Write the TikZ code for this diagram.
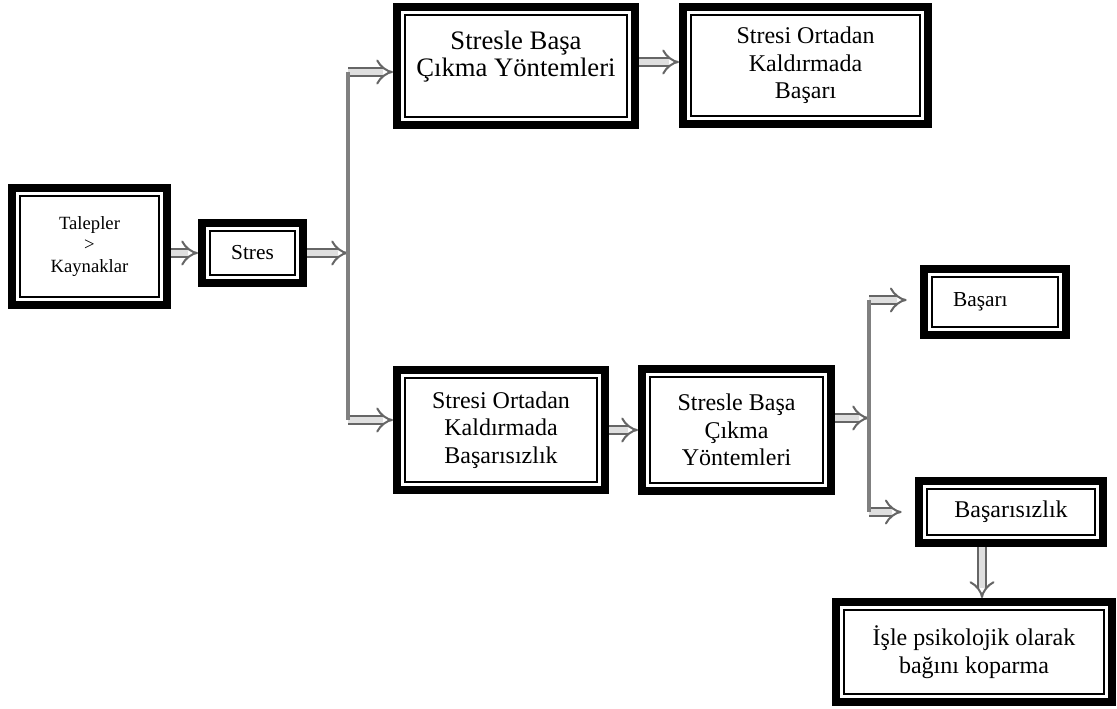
\documentclass[tikz,border=0pt]{standalone}
\usepackage{fontspec}
\setmainfont{Liberation Serif}
\usetikzlibrary{arrows.meta}
\begin{document}
\begin{tikzpicture}[x=0.75pt, y=-0.75pt, >={Implies[scale=1.1]}]
    \tikzset{
        dbox/.style={draw, line width=6pt, fill=white, align=center, inner sep=2pt,
            font=\fontsize{18}{20.6}\selectfont,
            path picture={\draw[line width=1.4pt]
                ([shift={(5.7pt,-5.7pt)}]path picture bounding box.north west) rectangle
                ([shift={(-5.7pt,5.7pt)}]path picture bounding box.south east);}},
        flow/.style={draw=gray!80!black, double=gray!25, double distance=5pt, line width=1.5pt, ->},
        trunk/.style={draw=gray, line width=2.3pt},
    }
    \useasboundingbox (0,0) rectangle (1117,709);
    % boxes
    \node[dbox, minimum width=116.25pt, minimum height=87.75pt, font=\fontsize{14}{16}\selectfont] (talep) at (89.5,246.5) {Talepler\\>\\Kaynaklar};
    \node[dbox, minimum width=75.75pt, minimum height=45pt, font=\fontsize{16}{19}\selectfont] (stres) at (252.5,253) {Stres};
    \node[dbox, minimum width=178.5pt, minimum height=88.5pt, font=\fontsize{20}{20}\selectfont] (cope) at (516,66) {Stresle Başa\\Çıkma Yöntemleri\\[-2pt]};
    \node[dbox, minimum width=183.75pt, minimum height=87.75pt] (basari) at (805.5,65.5) {Stresi Ortadan\\Kaldırmada\\Başarı};
    \node[dbox, minimum width=156pt, minimum height=90pt] (fail) at (501,430) {Stresi Ortadan\\Kaldırmada\\Başarısızlık};
    \node[dbox, minimum width=141.75pt, minimum height=91.5pt] (cope2) at (736.5,430) {Stresle Başa\\Çıkma\\Yöntemleri};
    \node[dbox, minimum width=106.5pt, minimum height=49.5pt, font=\fontsize{16}{19}\selectfont] (ok) at (995,302) {Başarı\hspace*{22pt}};
    \node[dbox, minimum width=138pt, minimum height=46.5pt] (ko) at (1011,512) {Başarısızlık};
    \node[dbox, minimum width=207pt, minimum height=75pt] (detach) at (974,652) {İşle psikolojik olarak\\bağını koparma};
    % junctions
    \coordinate (ja) at (348,72);
    \coordinate (jb) at (348,420);
    \coordinate (jc) at (869,300);
    \coordinate (jd) at (869,512);
    \coordinate (je) at (982,547);
    % arrows
    \draw[flow] (talep.east |- stres) -- (stres.west);
    \draw[flow] (stres) -- (stres -| ja);
    \draw[flow] (ja) -- (cope.west |- ja);
    \draw[flow] (jb) -- (fail.west |- jb);
    \draw[flow] (cope.east |- 0,62) -- (basari.west |- 0,62);
    \draw[flow] (fail) -- (cope2);
    \draw[flow] (cope2.east |- 0,418) -- (jc |- 0,418);
    \draw[flow, shorten >=10pt] (jc) -- (ok.west |- jc);
    \draw[flow, shorten >=10pt] (jd) -- (ko);
    \draw[flow] (je) -- (je |- detach.north);
    \draw[trunk] (ja) -- (jb);
    \draw[trunk] (jc) -- (jd);
\end{tikzpicture}
\end{document}
